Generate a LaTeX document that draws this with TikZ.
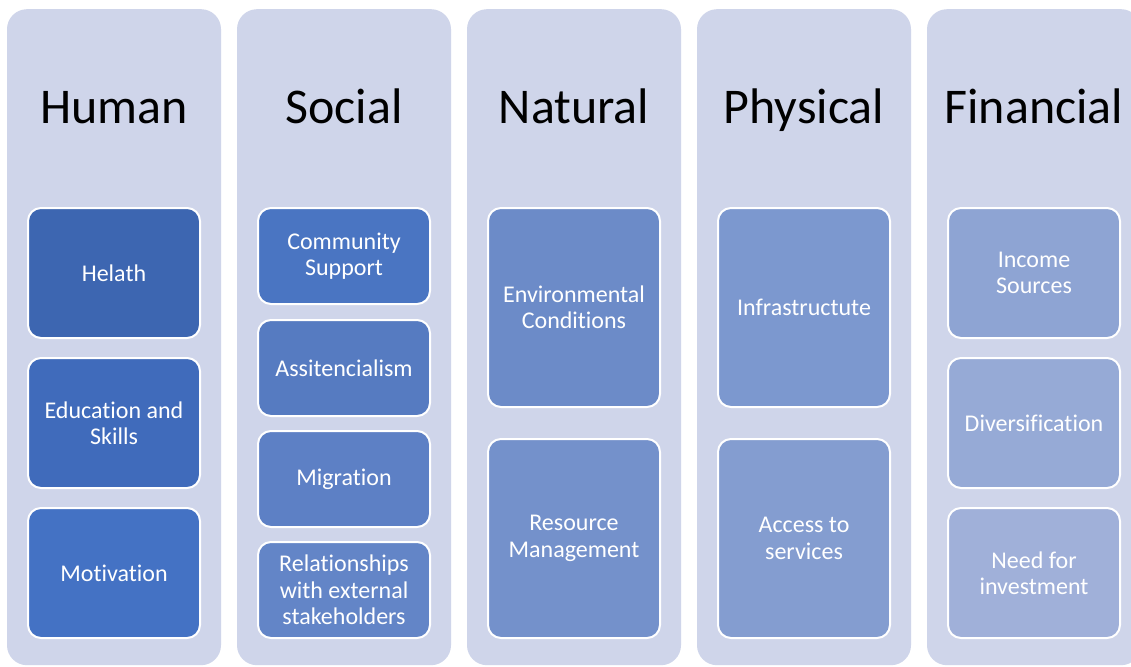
\documentclass[tikz,border=0pt]{standalone}
\usepackage{fontspec}
\setmainfont{Carlito}[RawFeature={-liga;-clig;-calt;-dlig}]
\definecolor{colbg}{RGB}{207,213,234}
\definecolor{hA}{RGB}{61,102,177}
\definecolor{hB}{RGB}{64,107,187}
\definecolor{hC}{RGB}{68,114,196}
\definecolor{sA}{RGB}{74,117,194}
\definecolor{sB}{RGB}{86,123,193}
\definecolor{sC}{RGB}{93,128,197}
\definecolor{sD}{RGB}{99,133,199}
\definecolor{nA}{RGB}{108,139,200}
\definecolor{nB}{RGB}{116,145,203}
\definecolor{pA}{RGB}{124,152,207}
\definecolor{pB}{RGB}{132,157,208}
\definecolor{fA}{RGB}{142,164,211}
\definecolor{fB}{RGB}{150,170,214}
\definecolor{fC}{RGB}{160,176,217}
\begin{document}
\begin{tikzpicture}[x=1pt,y=-1pt,
  column/.style={fill=colbg, rounded corners=20pt, minimum width=214pt,
    minimum height=656pt, inner sep=0pt, anchor=north, draw=none},
  heading/.style={font=\fontsize{50}{60}\selectfont, anchor=base, text=black, inner sep=0pt},
  item/.style={draw=white, line width=2pt, rounded corners=13pt, minimum width=172pt,
    anchor=north, align=center, text=white, inner sep=0pt,
    font=\fontsize{24}{26.4}\selectfont}]
  \clip (0,0) rectangle (1131,666);
  \fill[white] (0,0) rectangle (1131,666);

  % columns
  \node[column] (colH) at (114,9) {};
  \node[column] (colS) at (344,9) {};
  \node[column] (colN) at (574,9) {};
  \node[column] (colP) at (804,9) {};
  \node[column] (colF) at (1034,9) {};

  % headings
  \node[heading] (tH) at (114,123) {Human};
  \node[heading] (tS) at (344,123) {Social};
  \node[heading] (tN) at (574,123) {Natural};
  \node[heading] (tP) at (804,123) {Physical};
  \node[heading] (tF) at (1034,123) {Financial};

  % Human
  \node[item, fill=hA, minimum height=130pt] (h1) at (114,207) {Helath};
  \node[item, fill=hB, minimum height=130pt] (h2) at (114,357) {Education and\\Skills};
  \node[item, fill=hC, minimum height=130pt] (h3) at (114,507) {Motivation};

  % Social
  \node[item, fill=sA, minimum height=96pt] (s1) at (344,207) {Community\\Support};
  \node[item, fill=sB, minimum height=96pt] (s2) at (344,319) {Assitencialism};
  \node[item, fill=sC, minimum height=96pt] (s3) at (344,430) {Migration};
  \node[item, fill=sD, minimum height=96pt] (s4) at (344,541) {Relationships\\with external\\stakeholders};

  % Natural
  \node[item, fill=nA, minimum height=199pt] (n1) at (574,207) {Environmental\\Conditions};
  \node[item, fill=nB, minimum height=199pt] (n2) at (574,438) {Resource\\Management};

  % Physical
  \node[item, fill=pA, minimum height=199pt] (p1) at (804,207) {Infrastructute};
  \node[item, fill=pB, minimum height=199pt] (p2) at (804,438) {Access to\\services};

  % Financial
  \node[item, fill=fA, minimum height=130pt] (f1) at (1034,207) {Income\\Sources};
  \node[item, fill=fB, minimum height=130pt] (f2) at (1034,357) {Diversification};
  \node[item, fill=fC, minimum height=130pt] (f3) at (1034,507) {Need for\\investment};
\end{tikzpicture}
\end{document}
